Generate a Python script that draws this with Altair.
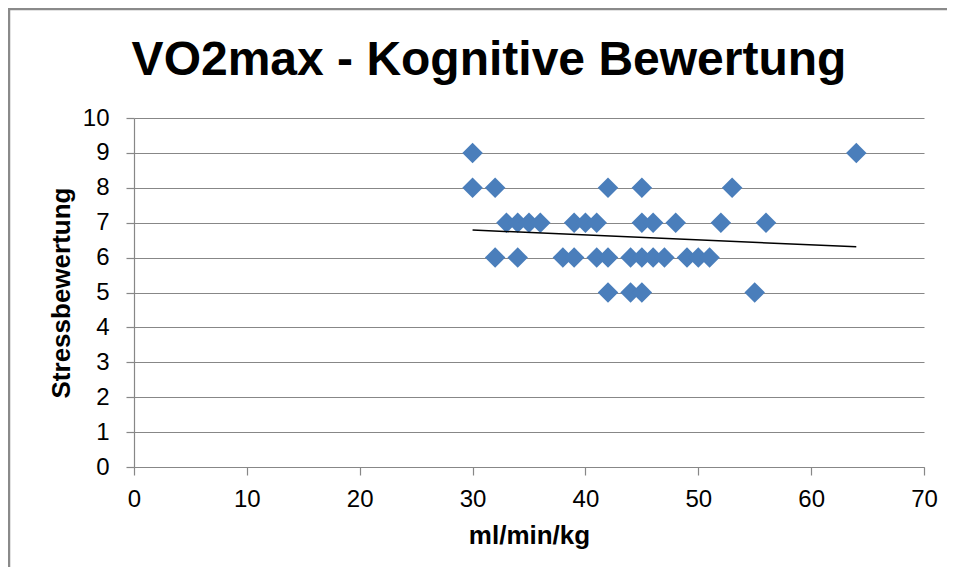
import altair as alt
import pandas as pd

# Data
vo2max = [30, 64,
          30, 32, 42, 45, 53,
          33, 34, 35, 36, 39, 40, 41, 45, 46, 48, 52, 56,
          32, 34, 38, 39, 41, 42, 44, 45, 46, 47, 49, 50, 51,
          42, 44, 45, 55]
stress = [9, 9,
          8, 8, 8, 8, 8,
          7, 7, 7, 7, 7, 7, 7, 7, 7, 7, 7, 7,
          6, 6, 6, 6, 6, 6, 6, 6, 6, 6, 6, 6, 6,
          5, 5, 5, 5]
trend_x = [30, 64]
trend_y = [6.79, 6.31]

x_ticks = [0, 10, 20, 30, 40, 50, 60, 70]
y_ticks = [0, 1, 2, 3, 4, 5, 6, 7, 8, 9, 10]
title_text = "VO2max - Kognitive Bewertung"

FONT = "Liberation Sans"
GRAY = "#878787"

pts = pd.DataFrame({"x": vo2max, "y": stress})
trend = pd.DataFrame({"x": trend_x, "y": trend_y})

xscale = alt.Scale(domain=[0, 70], nice=False, zero=True)
yscale = alt.Scale(domain=[0, 10], nice=False, zero=True)


def x_axis():
    return alt.Axis(title="ml/min/kg", values=x_ticks, grid=False, tickSize=8,
                    labelPadding=12, titlePadding=11, labelFlush=False,
                    labelOverlap=False)


def y_axis():
    return alt.Axis(title="Stressbewertung", values=y_ticks, grid=True, tickSize=8,
                    labelPadding=17, titlePadding=8, labelFlush=False,
                    labelOverlap=False)


points = alt.Chart(pts).mark_point(
    shape="diamond", filled=True, size=420, color="#4a7ebb", opacity=1
).encode(
    x=alt.X("x:Q", scale=xscale, axis=x_axis()),
    y=alt.Y("y:Q", scale=yscale, axis=y_axis()),
)

line = alt.Chart(trend).mark_line(color="#000000", strokeWidth=1.5).encode(
    x=alt.X("x:Q", scale=xscale, axis=x_axis()),
    y=alt.Y("y:Q", scale=yscale, axis=y_axis()),
)

frame = alt.Data(values=[{}])
border_top = alt.Chart(frame).mark_rule(
    stroke="#8a8a8a", strokeWidth=2.5, clip=False
).encode(
    x=alt.value(-126), x2=alt.value(900), y=alt.value(-109),
)
border_left = alt.Chart(frame).mark_rule(
    stroke="#8a8a8a", strokeWidth=2.5, clip=False
).encode(
    x=alt.value(-125), y=alt.value(-110), y2=alt.value(520),
)

title = alt.Chart(alt.Data(values=[{"t": title_text}])).mark_text(
    font=FONT, fontSize=48, fontWeight="bold", color="#000000",
    align="center", baseline="alphabetic", clip=False
).encode(
    text="t:N",
    x=alt.value(355),
    y=alt.value(-43),
)

chart = alt.layer(border_top, border_left, title, points, line).properties(
    width=790,
    height=349,
    autosize=alt.AutoSizeParams(type="none"),
    padding={"left": 126, "top": 110, "right": 23, "bottom": 100},
).configure(background="white").configure_view(stroke=None).configure_axis(
    labelFont=FONT, titleFont=FONT, labelFontSize=24, titleFontSize=26,
    labelColor="#000000", titleColor="#000000", titleFontWeight="bold",
    domainColor=GRAY, tickColor=GRAY, gridColor=GRAY, gridWidth=1.2,
    domainWidth=1.2, tickWidth=1.2,
)

chart.save("out.html", embed_options={"renderer": "svg", "actions": False})
